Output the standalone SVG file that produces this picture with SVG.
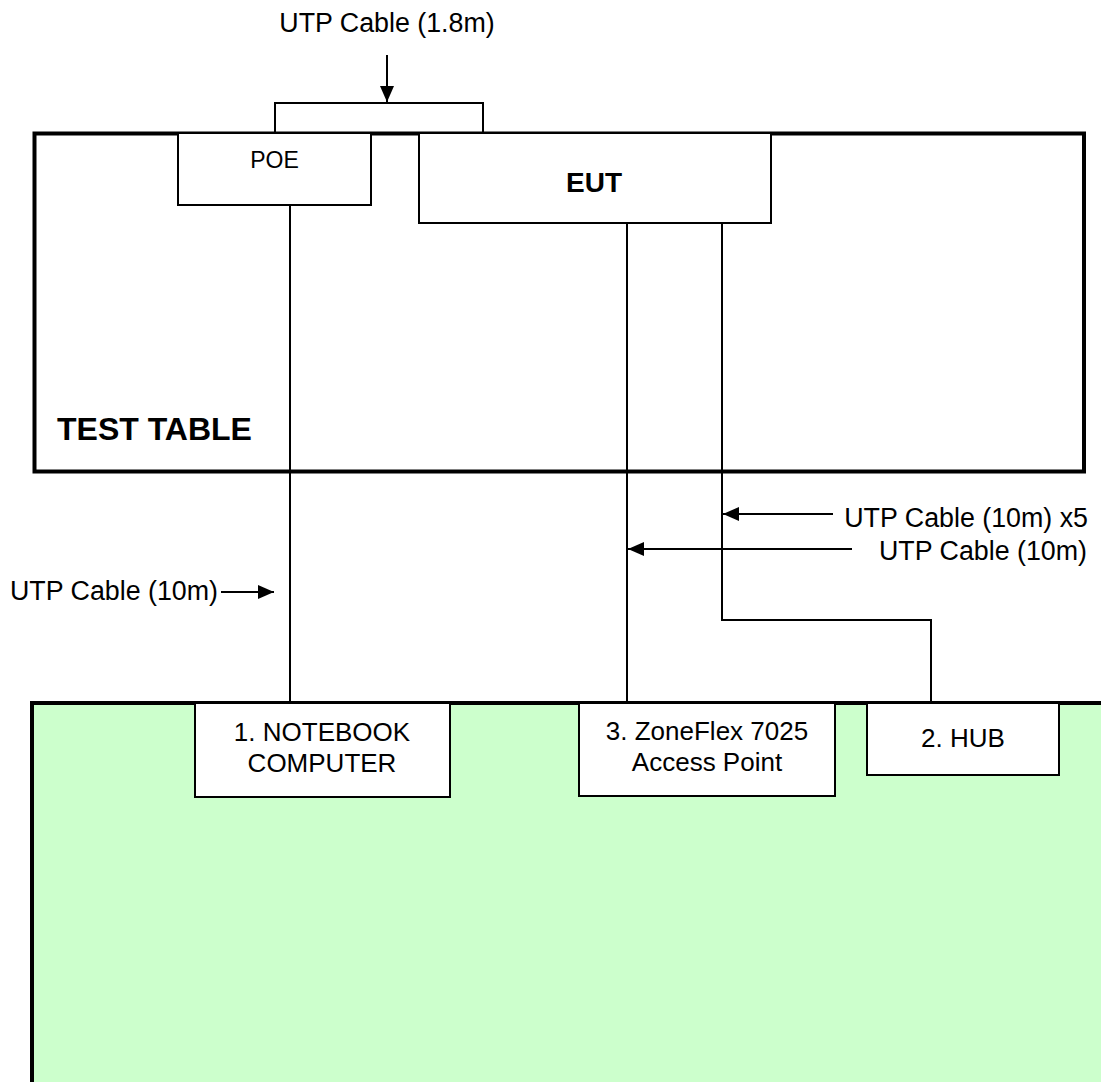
<svg xmlns="http://www.w3.org/2000/svg" width="1101" height="1082" viewBox="0 0 1101 1082">
<style>
text{font-family:"Liberation Sans",Arial,sans-serif;fill:#000}
.lbl{font-size:26px}
.cab{font-size:26.8px}
.box{fill:#fff;stroke:#000;stroke-width:2}
.wire{fill:none;stroke:#000;stroke-width:2}
.arr{fill:none;stroke:#000;stroke-width:2;marker-end:url(#ah)}
</style>
<defs>
<marker id="ah" markerUnits="userSpaceOnUse" markerWidth="17" markerHeight="15" refX="16" refY="7" orient="auto">
<path d="M0,0 L16,7 L0,14 z" fill="#000"/>
</marker>
</defs>
<rect width="1101" height="1082" fill="#fff"/>
<g id="lab-area">
<rect x="32" y="703" width="1069" height="379" fill="#CCFFCC"/>
<path d="M32,1082 V703 H1101" fill="none" stroke="#000" stroke-width="4"/>
</g>
<g id="test-table">
<rect x="34.5" y="133.5" width="1049.5" height="338" fill="none" stroke="#000" stroke-width="4"/>
<text x="57" y="440" font-size="32" font-weight="bold">TEST TABLE</text>
</g>
<g id="connectors">
<path class="wire" d="M275,133 V103 H483 V133"/>
<path class="wire" d="M290,205 V703"/>
<path class="wire" d="M627,223 V703"/>
<path class="wire" d="M722,223 V620 H931 V703"/>
<path class="arr" d="M387,55 V102"/>
<path class="arr" d="M833,514 H723"/>
<path class="arr" d="M852,549 H628"/>
<path class="arr" d="M221,592 H274"/>
</g>
<g id="poe">
<rect class="box" x="178" y="133" width="193" height="72"/>
<text x="274.5" y="168" font-size="23" text-anchor="middle">POE</text>
</g>
<g id="eut">
<rect class="box" x="419" y="133" width="352" height="90"/>
<text x="594" y="192" font-size="28" font-weight="bold" text-anchor="middle">EUT</text>
</g>
<g id="notebook">
<rect class="box" x="195" y="703" width="255" height="94"/>
<text class="lbl" x="322" y="741" text-anchor="middle">1. NOTEBOOK</text>
<text class="lbl" x="322" y="772" text-anchor="middle">COMPUTER</text>
</g>
<g id="access-point">
<rect class="box" x="579" y="703" width="256" height="93"/>
<text class="lbl" x="707" y="740" text-anchor="middle">3. ZoneFlex 7025</text>
<text class="lbl" x="707" y="771" text-anchor="middle">Access Point</text>
</g>
<g id="hub">
<rect class="box" x="867" y="703" width="192" height="72"/>
<text class="lbl" x="963" y="746.5" text-anchor="middle">2. HUB</text>
</g>
<g id="labels">
<text class="cab" x="387" y="32" text-anchor="middle">UTP Cable (1.8m)</text>
<text class="cab" x="1088" y="527" text-anchor="end">UTP Cable (10m) x5</text>
<text class="cab" x="1087" y="560" text-anchor="end">UTP Cable (10m)</text>
<text class="cab" x="10" y="600">UTP Cable (10m)</text>
</g>
</svg>
